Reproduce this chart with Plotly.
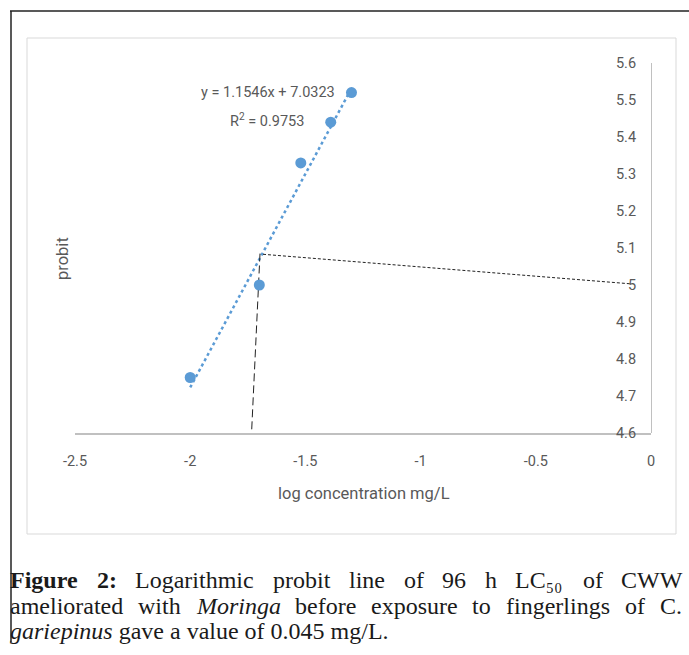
import numpy as np
import plotly.graph_objects as go

# ---------------- data ----------------
log_conc = [-2.0, -1.70, -1.52, -1.39, -1.30]
probit = [4.75, 5.00, 5.33, 5.44, 5.52]

slope = 1.1546
intercept = 7.0323
r_squared = 0.9753

# LC50 construction (dashed guide lines)
guide_v_x = [-1.733, -1.697]
guide_v_y = [4.61, 5.085]
guide_h_x = [-1.684, -0.085]
guide_h_y = [5.083, 5.003]

x_ticks = [-2.5, -2, -1.5, -1, -0.5, 0]
x_tick_text = ["-2.5", "-2", "-1.5", "-1", "-0.5", "0"]
y_ticks = [4.6, 4.7, 4.8, 4.9, 5.0, 5.1, 5.2, 5.3, 5.4, 5.5, 5.6]
y_tick_text = ["4.6", "4.7", "4.8", "4.9", "5", "5.1", "5.2", "5.3", "5.4", "5.5", "5.6"]

# ---------------- layout geometry (pixels) ----------------
W, H = 689, 655
PL, PR, PT, PB = 75, 651, 63, 433  # plot area edges


def px(x):
    return (x - PL) / (PR - PL)


def py(y):
    return (PB - y) / (PB - PT)


GRAY = "#595959"
BLUE = "#5B9BD5"
SANS = "Liberation Sans Narrow, Roboto, Open Sans, sans-serif"
SERIF = "Liberation Serif, DejaVu Serif, serif"

fig = go.Figure()

# trendline from the stated regression
tx = np.array([min(log_conc), max(log_conc)])
ty = slope * tx + intercept
fig.add_trace(go.Scatter(x=tx, y=ty, mode="lines",
                         line=dict(color=BLUE, width=2.5, dash="3px,3px"),
                         hoverinfo="skip", showlegend=False))

fig.add_trace(go.Scatter(x=guide_v_x, y=guide_v_y, mode="lines",
                         line=dict(color="#222222", width=1, dash="8px,4px"),
                         hoverinfo="skip", showlegend=False))
fig.add_trace(go.Scatter(x=guide_h_x, y=guide_h_y, mode="lines",
                         line=dict(color="#222222", width=1, dash="3px,2px"),
                         hoverinfo="skip", showlegend=False))

fig.add_trace(go.Scatter(x=log_conc, y=probit, mode="markers",
                         marker=dict(color=BLUE, size=11, line=dict(width=0)),
                         showlegend=False))

fig.update_xaxes(range=[-2.5, 0], tickvals=x_ticks, ticktext=x_tick_text,
                 showgrid=False, zeroline=False, showline=True,
                 linecolor="#c0c0c0", linewidth=1.5,
                 ticks="outside", ticklen=14, tickcolor="rgba(0,0,0,0)",
                 tickfont=dict(family=SANS, size=14.5, color=GRAY))
fig.update_yaxes(range=[4.6, 5.6], tickvals=y_ticks, ticktext=y_tick_text,
                 side="left", anchor="free", position=1.0,
                 showgrid=False, zeroline=False, showline=True,
                 linecolor="#c0c0c0", linewidth=1,
                 ticks="outside", ticklen=12, tickcolor="rgba(0,0,0,0)",
                 tickfont=dict(family=SANS, size=14.5, color=GRAY))

shapes = [
    # outer black frame (top + left)
    dict(type="line", xref="paper", yref="paper", x0=px(10), x1=px(689), y0=py(11), y1=py(11),
         line=dict(color="#222222", width=1.5)),
    dict(type="line", xref="paper", yref="paper", x0=px(11), x1=px(11), y0=py(11), y1=py(642),
         line=dict(color="#222222", width=1.5)),
    # light chart-area border
    dict(type="rect", xref="paper", yref="paper", x0=px(27), x1=px(676), y0=py(38), y1=py(534),
         line=dict(color="#d9d9d9", width=1), layer="below"),
]

ann = [
    dict(text="y = 1.1546x + 7.0323", x=px(268), y=py(93), font=dict(family=SANS, size=14.5, color=GRAY)),
    dict(text="R<sup>2</sup> = 0.9753", x=px(267), y=py(120), font=dict(family=SANS, size=14.5, color=GRAY)),
    dict(text="log concentration mg/L", x=px(364), y=py(493), font=dict(family=SANS, size=16.5, color=GRAY)),
    dict(text="probit", x=px(62), y=py(259), textangle=-90, font=dict(family=SANS, size=16.5, color=GRAY)),
]
for a in ann:
    a.update(xref="paper", yref="paper", showarrow=False, xanchor="center", yanchor="middle")

cap_font = dict(family=SERIF, size=24, color="#1a1a1a")
line1 = [("<b>Figure</b>", 10), ("<b>2:</b>", 96.7), ("Logarithmic", 135.4), ("probit", 272.8),
         ("line", 348.8), ("of", 403.5), ("96", 442.2), ("h", 484.9), ("LC₅₀", 514.5),
         ("of", 583), ("CWW", 620.5)]
line2 = [("ameliorated", 10), ("with", 138.2), ("<i>Moringa</i>", 195.8), ("before", 294.7),
         ("exposure", 370.9), ("to", 472.4), ("fingerlings", 506), ("of", 624.9), ("C.", 659.8)]
line3 = [("<i>gariepinus</i> gave a value of 0.045 mg/L.", 10)]
for words, yc in ((line1, 580), (line2, 606), (line3, 631)):
    for t, xl in words:
        ann.append(dict(text=t, x=px(xl - 2), y=py(yc - 15), xref="paper", yref="paper",
                        showarrow=False, xanchor="left", yanchor="top", font=cap_font))

fig.update_layout(width=W, height=H, autosize=False,
                  margin=dict(l=PL, r=W - PR, t=PT, b=H - PB),
                  paper_bgcolor="white", plot_bgcolor="white",
                  shapes=shapes, annotations=ann, showlegend=False)

fig.write_html("out.html", config={"displayModeBar": False},
               post_script="document.body.style.margin='0';")
